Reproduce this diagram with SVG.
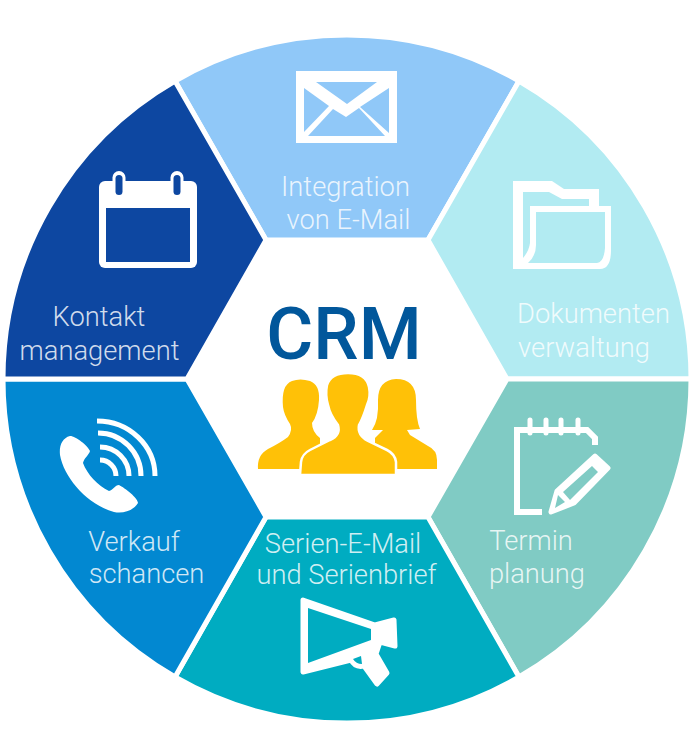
<svg xmlns="http://www.w3.org/2000/svg" width="694" height="736" viewBox="0 0 694 736">
<style>
.seg{stroke:#fff;stroke-width:5;stroke-linejoin:miter}
.lbl{font-family:Roboto,"Liberation Sans",sans-serif;font-weight:300;font-size:27.300px;fill:#fff;fill-opacity:.82;text-anchor:middle}
.ic{fill:#fff;fill-rule:evenodd}
.ln{fill:none;stroke:#fff}
.ppl{fill:#FFC107}
</style>
<rect width="694" height="736" fill="#fff"/>
<g id="node-email">
<path class="seg" fill="#90C8F8" d="M266,240 L175,81 A344,344 0 0 1 519,81 L428,240 Z"/>
<path class="ic" d="M296,71 H397 V143 H296 Z M316,82 L347,104 L377,82 Z M304,88 V132 L329,106 Z M389,88 L360,107 L389,133 Z M308,136 H385 L359,108 L346,117 L333,109 Z"/>
<text class="lbl" x="345.500" y="196">Integration</text>
<text class="lbl" x="348.500" y="229">von E-Mail</text>
</g>
<g id="node-dokumente">
<path class="seg" fill="#B2EBF2" d="M428,240 L519,81 A344,344 0 0 1 691,379 H507 Z"/>
<path class="ic" d="M513,181 H552 L564,189 H599 V206 H611 V250 Q611,269 600,269 H513 Z M523,192 H549 L562,199 H589 V206 H530 V243 Q529,251 523,258 Z M536,212 H605 V248 Q604,262 597,263 H528 Q536,256 536,245 Z"/>
<text class="lbl" x="593.500" y="323">Dokumenten</text>
<text class="lbl" x="584" y="357">verwaltung</text>
</g>
<g id="node-termin">
<path class="seg" fill="#80CBC4" d="M507,379 H691 A344,344 0 0 1 519,677 L428,517 Z"/>
<path class="ln" stroke-width="6" d="M595,445 V438 L587,430 H517 V512 H542"/>
<path class="ln" stroke-width="5" stroke-linecap="round" d="M530,420 V433 M546,420 V433 M561,420 V433 M578,420 V433"/>
<path fill="#fff" stroke="#fff" stroke-width="5" stroke-linejoin="round" d="M551,512 L557,491 L595,456 L608,468 L574,503 Z"/>
<path fill="#80CBC4" d="M592,466 L598,472 L570,500 L563,492 Z M558,495 L565,502 L555,508 Z"/>
<text class="lbl" x="531" y="550">Termin</text>
<text class="lbl" x="537" y="583">planung</text>
</g>
<g id="node-serien">
<path class="seg" fill="#00ACC1" d="M266,517 H428 L519,677 A344,344 0 0 1 175,677 Z"/>
<path fill="#fff" stroke="#fff" stroke-width="5" stroke-linejoin="round" d="M303,600 L375,625 L394,620 L395,646 L380,642 L376,654 L387,673 L377,684 L364,666 Q355,668 351,660 L303,672 Z"/>
<path fill="#00ACC1" d="M308,608 L371,629 V640 L308,663 Z M353,659 L361,656 L362,664 Q356,664 353,659 Z"/>
<text class="lbl" x="343" y="553">Serien-E-Mail</text>
<text class="lbl" x="346.500" y="584">und Serienbrief</text>
</g>
<g id="node-verkauf">
<path class="seg" fill="#0288D1" d="M187,379 H3 A344,344 0 0 0 175,677 L266,517 Z"/>
<path class="ic" d="M70,436 C62,438 59,446 60,455 C64,478 88,505 114,512 C124,514 134,510 138,503 C138,498 125,488 119,485 C115,485 113,490 109,491 C98,486 87,474 83,463 C84,458 89,455 90,451 C88,446 76,436 70,436 Z"/>
<path class="ln" stroke-width="5" d="M97,421 A58,55 0 0 1 155,476 M98,433 A43,43 0 0 1 141,476 M100,447 A29,29 0 0 1 129,476 M100,460 A16,16 0 0 1 116,476"/>
<text class="lbl" x="134" y="551">Verkauf</text>
<text class="lbl" x="146.500" y="583">schancen</text>
</g>
<g id="node-kontakt">
<path class="seg" fill="#0D47A1" d="M266,240 L175,81 A344,344 0 0 0 3,379 H187 Z"/>
<rect x="99" y="181" width="98" height="87" rx="6" fill="#fff"/>
<rect x="106" y="208" width="84" height="54" fill="#0D47A1"/>
<rect x="112.500" y="171" width="13" height="27" rx="6.500" fill="#fff"/>
<rect x="170.500" y="171" width="13" height="27" rx="6.500" fill="#fff"/>
<rect x="115.500" y="175" width="7" height="20" rx="3.500" fill="#0D47A1"/>
<rect x="173.500" y="175" width="7" height="20" rx="3.500" fill="#0D47A1"/>
<text class="lbl" x="99" y="326">Kontakt</text>
<text class="lbl" x="99.500" y="360">management</text>
</g>
<g id="node-crm">
<text x="344" y="359" font-family="Roboto,'Liberation Sans',sans-serif" font-weight="500" font-size="72" fill="#01579B" text-anchor="middle">CRM</text>
<path class="ppl" d="M258,469 Q257,455 268,449 Q280,443 288,437 Q293,430 290,424 Q284,415 283,407 Q281,385 292,381 Q300,378 310,381 Q320,385 319,400 Q318,415 312,423 Q312,432 320,438 L320,469 Z"/>
<path class="ppl" d="M375,438 L383,430 H372 Q379,420 378,400 Q378,380 396,379 Q416,379 416,400 Q416,420 420,429 L407,430 L410,435 L428,446 Q437,450 437,460 V469 H375 Z"/>
<path class="ppl" stroke="#fff" stroke-width="2.500" d="M300,475 L301,462 Q302,454 310,450 L330,440 Q341,435 338,425 Q330,415 328,405 Q325,395 327,385 Q331,373 348,373 Q366,373 369,387 Q371,397 367,405 Q363,418 359,425 Q357,435 368,441 L387,450 Q395,454 396,462 L396,475 Z"/>
</g>
<g id="connectors"/>
</svg>
